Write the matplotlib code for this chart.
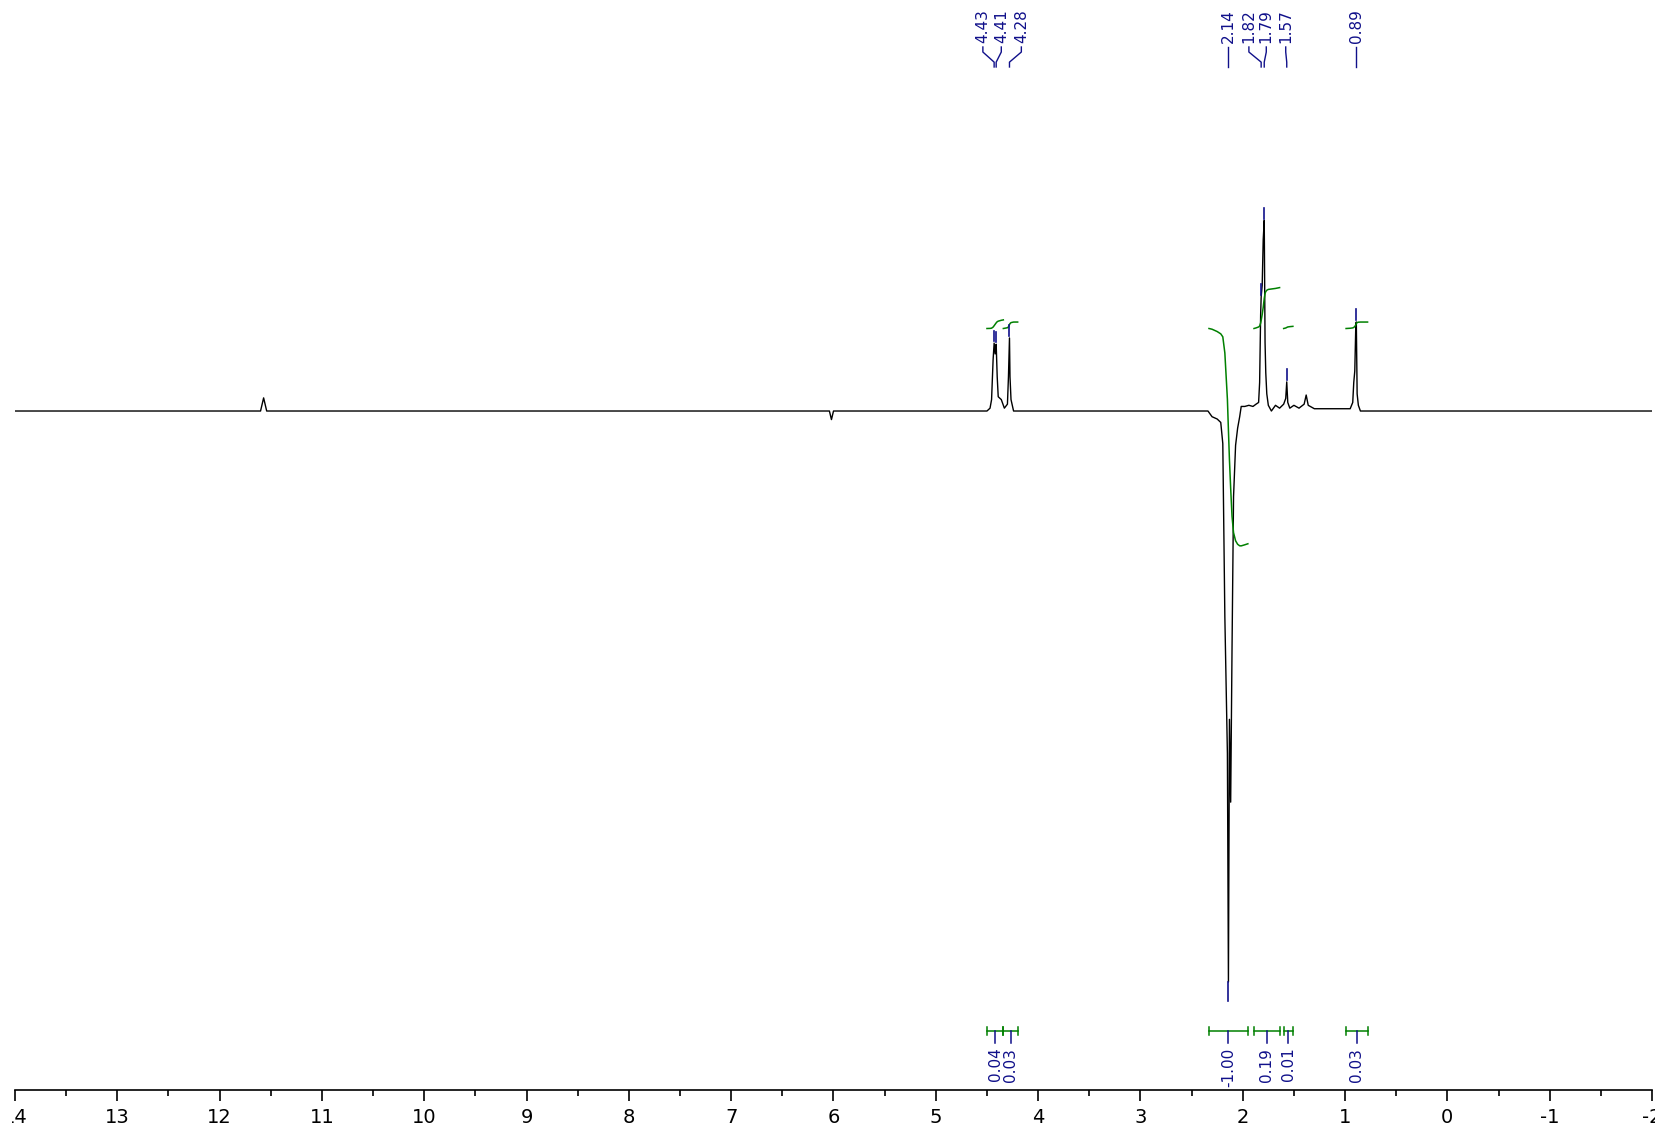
import numpy as np
import matplotlib
matplotlib.use("Agg")
import matplotlib.pyplot as plt
from matplotlib.transforms import Bbox, TransformedBbox

# Picked peaks: chemical shift (ppm) and intensity relative to the 2.14 ppm signal
peak_ppm = [4.43, 4.41, 4.28, 2.14, 1.82, 1.79, 1.57, 0.89]
peak_int = [0.119, 0.117, 0.128, -1.00, 0.20, 0.334, 0.051, 0.156]
peak_labels = ["4.43", "4.41", "4.28", "2.14", "1.82", "1.79", "1.57", "0.89"]

# Remaining vertices of the spectrum trace (baseline and line shapes)
shape_ppm = [14.0, 11.60, 11.57, 11.54, 6.04, 6.02, 6.00,
             4.50, 4.47, 4.455, 4.44, 4.42, 4.40, 4.39, 4.36, 4.33,
             4.30, 4.29, 4.275, 4.265, 4.24,
             2.34, 2.30, 2.25, 2.215, 2.195, 2.175, 2.150, 2.130, 2.118, 2.105,
             2.09, 2.07, 2.05, 2.03, 2.015, 1.98, 1.94, 1.90, 1.87,
             1.845, 1.835, 1.825, 1.81, 1.80, 1.782, 1.775, 1.765, 1.75,
             1.72, 1.68, 1.64, 1.60, 1.58, 1.56, 1.54, 1.50, 1.45,
             1.40, 1.38, 1.36, 1.30, 0.95, 0.925, 0.915, 0.905, 0.895,
             0.882, 0.87, 0.85, -2.0]
shape_int = [0.0, 0.0, 0.023, 0.0, 0.0, -0.015, 0.0,
             0.0, 0.005, 0.02, 0.09, 0.10, 0.06, 0.025, 0.02, 0.005,
             0.012, 0.06, 0.06, 0.02, 0.0,
             0.0, -0.01, -0.014, -0.02, -0.057, -0.36, -0.60, -0.54, -0.685, -0.42,
             -0.15, -0.06, -0.03, -0.01, 0.008, 0.008, 0.01, 0.008, 0.012,
             0.015, 0.05, 0.17, 0.22, 0.30, 0.12, 0.067, 0.03, 0.01,
             0.0, 0.01, 0.005, 0.012, 0.022, 0.015, 0.005, 0.01, 0.005,
             0.012, 0.028, 0.01, 0.004, 0.004, 0.015, 0.05, 0.07, 0.15,
             0.03, 0.01, 0.0, 0.0]

# Integration regions (ppm) and their integral values
int_start = [4.50, 4.34, 2.33, 1.89, 1.60, 0.99]
int_end = [4.34, 4.20, 1.95, 1.64, 1.51, 0.78]
int_value = [0.04, 0.03, -1.00, 0.19, 0.01, 0.03]
int_labels = ["0.04", "0.03", "-1.00", "0.19", "0.01", "0.03"]

x_ticks = list(range(14, -3, -1))

# Layout: horizontal positions of the peak labels (spread to avoid overlap)
label_ppm = [4.54, 4.36, 4.164, 2.14, 1.94, 1.77, 1.58, 0.89]

BLUE = "#10108a"
GREEN = "#008000"

# Merge shape vertices with peak tops, sorted from high to low ppm
trace_ppm = np.array(shape_ppm + peak_ppm, dtype=float)
trace_int = np.array(shape_int + peak_int, dtype=float)
order = np.argsort(-trace_ppm)
trace_ppm = trace_ppm[order]
trace_int = trace_int[order]

fig = plt.figure(figsize=(16.56, 11.30), dpi=100)
ax = fig.add_axes([15 / 1656, 40 / 1130, 1637 / 1656, 1090 / 1130])
ax.set_xlim(14, -2)
ax.set_ylim(-1.1891, 0.7198)

ax.plot(trace_ppm, trace_int, color="black", lw=1.0, zorder=3)

# Integral curves
integ_base = 0.1445
integ_scale = 0.377
asc_ppm = trace_ppm[::-1]
asc_int = trace_int[::-1]
for s, e, v in zip(int_start, int_end, int_value):
    inside = (trace_ppm < s) & (trace_ppm > e)
    xs = np.concatenate([[s], trace_ppm[inside], [e]])
    ys = np.concatenate([[np.interp(s, asc_ppm, asc_int)], trace_int[inside],
                         [np.interp(e, asc_ppm, asc_int)]])
    seg = 0.5 * (ys[1:] + ys[:-1]) * (xs[:-1] - xs[1:])
    cum = np.concatenate([[0.0], np.cumsum(seg)])
    curve = integ_base + v * integ_scale * cum / cum[-1]
    ax.plot(xs, curve, color=GREEN, lw=1.1, zorder=4)

# Peak markers and labels along the top
y_txt = 0.645
y1, y2, y3, y4 = 0.6375, 0.6287, 0.611, 0.6025
for p, val, lab, lx in zip(peak_ppm, peak_int, peak_labels, label_ppm):
    if val >= 0:
        ax.plot([p, p], [val + 0.003, val + 0.022], color=BLUE, lw=1.2, zorder=5)
    else:
        ax.plot([p, p], [val, val - 0.033], color=BLUE, lw=1.2, zorder=5)
    ax.plot([lx, lx, p, p], [y1, y2, y3, y4], color=BLUE, lw=1.0, clip_on=False)
    ax.text(lx, y_txt, lab, rotation=90, ha="center", va="bottom",
            fontsize=11, color=BLUE, clip_on=False)

# Integration brackets and values along the bottom
y_bar = -1.085
cap = 0.007
for s, e, lab in zip(int_start, int_end, int_labels):
    ax.plot([s, e], [y_bar, y_bar], color=GREEN, lw=1.1, clip_on=False)
    ax.plot([s, s], [y_bar - cap, y_bar + cap], color=GREEN, lw=1.1, clip_on=False)
    ax.plot([e, e], [y_bar - cap, y_bar + cap], color=GREEN, lw=1.1, clip_on=False)
    c = 0.5 * (s + e)
    ax.plot([c, c], [y_bar, y_bar - 0.022], color=BLUE, lw=1.1, clip_on=False)
    ax.text(c, y_bar - 0.03, lab, rotation=90, ha="center", va="top",
            fontsize=11, color=BLUE, clip_on=False)

# Axis styling: only the ppm scale at the bottom
for side in ("left", "right", "top"):
    ax.spines[side].set_visible(False)
ax.spines["bottom"].set_linewidth(1.2)
ax.set_yticks([])
ax.set_xticks(x_ticks)
ax.set_xticklabels([str(t) for t in x_ticks])
ax.set_xticks(np.arange(13.5, -2.0, -1.0), minor=True)
ax.tick_params(axis="x", which="major", direction="out", length=8, width=1.2,
               labelsize=14, pad=5)
ax.tick_params(axis="x", which="minor", direction="out", length=4, width=1.2)

# The scale labels are cut at the left border of the plotting region
clip_region = TransformedBbox(Bbox([[12 / 1656, 0.0], [1.0, 1.0]]), fig.transFigure)
for tl in ax.get_xticklabels():
    tl.set_clip_box(clip_region)
    tl.set_clip_on(True)

fig.savefig("out.png", dpi=100)
